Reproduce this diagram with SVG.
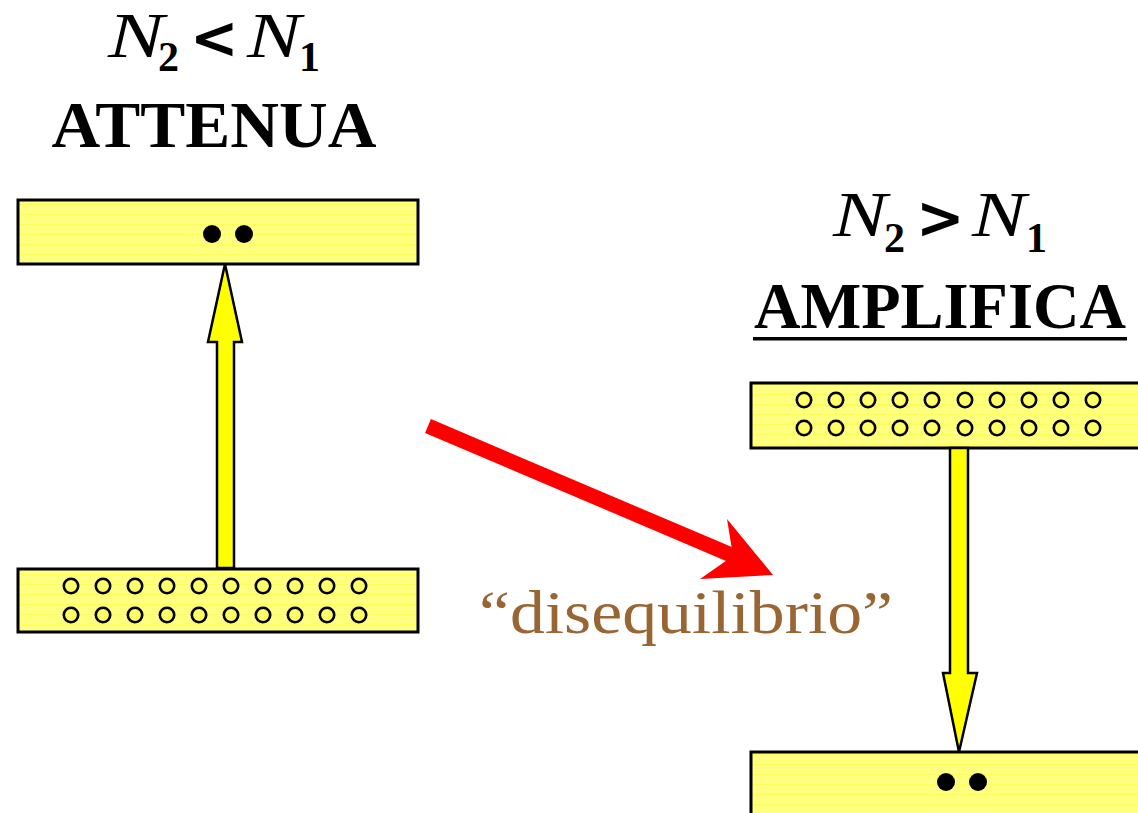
<svg xmlns="http://www.w3.org/2000/svg" width="1138" height="813" viewBox="0 0 1138 813">
  <style>
    .lvl { fill: url(#stripes); stroke: #000; stroke-width: 3; }
    .dot { fill: #000; }
    .hole { fill: #FFFF66; stroke: #000; stroke-width: 2.6; }
    .yarrow { fill: #FFFF00; stroke: #000; stroke-width: 2.5; stroke-linejoin: miter; }
    .title { font-family: "Liberation Serif", "Times New Roman", serif; fill: #000; }
    .n { font-style: italic; font-size: 64px; }
    .sub { font-size: 42px; font-weight: bold; }
    .op { font-family: "DejaVu Sans", sans-serif; font-size: 58px; font-weight: bold; }
    .label { font-family: "Liberation Serif", "Times New Roman", serif; fill: #996633; }
  </style>
  <defs>
    <pattern id="stripes" patternUnits="userSpaceOnUse" width="20" height="10">
      <rect width="20" height="10" fill="#FFFF80"/>
      <rect y="4" width="20" height="1.2" fill="#FFFF4D" opacity="0.7"/>
    </pattern>
  </defs>
  <rect width="1138" height="813" fill="#FFFFFF"/>

  <g id="title-left">
    <text class="title n" x="108" y="57" textLength="56" lengthAdjust="spacingAndGlyphs">N</text>
    <text class="title sub" x="158" y="71">2</text>
    <text class="title op" x="190" y="58">&lt;</text>
    <text class="title n" x="247" y="57" textLength="54" lengthAdjust="spacingAndGlyphs">N</text>
    <text class="title sub" x="299" y="71">1</text>
    <text class="title" x="214" y="147" font-size="66" font-weight="bold" text-anchor="middle" textLength="325" lengthAdjust="spacingAndGlyphs">ATTENUA</text>
  </g>

  <g id="title-right">
    <text class="title n" x="833" y="236" textLength="54" lengthAdjust="spacingAndGlyphs">N</text>
    <text class="title sub" x="884" y="252">2</text>
    <text class="title op" x="916" y="238">&gt;</text>
    <text class="title n" x="972" y="236" textLength="54" lengthAdjust="spacingAndGlyphs">N</text>
    <text class="title sub" x="1026" y="252">1</text>
    <text class="title" x="940" y="328" font-size="66" font-weight="bold" text-anchor="middle" textLength="372" lengthAdjust="spacingAndGlyphs">AMPLIFICA</text>
    <rect x="753" y="337" width="374" height="3.5" fill="#000"/>
  </g>

  <g id="left-upper-level">
    <rect class="lvl" x="18" y="200" width="400" height="64"/>
    <circle class="dot" cx="212" cy="234" r="9"/>
    <circle class="dot" cx="244" cy="234" r="9"/>
  </g>

  <g id="left-lower-level">
    <rect class="lvl" x="18" y="569" width="400" height="63"/>
    <g>
      <circle class="hole" cx="71" cy="586" r="7.2"/><circle class="hole" cx="103" cy="586" r="7.2"/><circle class="hole" cx="135" cy="586" r="7.2"/><circle class="hole" cx="167" cy="586" r="7.2"/><circle class="hole" cx="199" cy="586" r="7.2"/><circle class="hole" cx="231" cy="586" r="7.2"/><circle class="hole" cx="263" cy="586" r="7.2"/><circle class="hole" cx="295" cy="586" r="7.2"/><circle class="hole" cx="327" cy="586" r="7.2"/><circle class="hole" cx="359" cy="586" r="7.2"/>
      <circle class="hole" cx="71" cy="615" r="7.2"/><circle class="hole" cx="103" cy="615" r="7.2"/><circle class="hole" cx="135" cy="615" r="7.2"/><circle class="hole" cx="167" cy="615" r="7.2"/><circle class="hole" cx="199" cy="615" r="7.2"/><circle class="hole" cx="231" cy="615" r="7.2"/><circle class="hole" cx="263" cy="615" r="7.2"/><circle class="hole" cx="295" cy="615" r="7.2"/><circle class="hole" cx="327" cy="615" r="7.2"/><circle class="hole" cx="359" cy="615" r="7.2"/>
    </g>
  </g>

  <g id="right-upper-level">
    <rect class="lvl" x="751" y="383" width="392" height="65"/>
    <g>
      <circle class="hole" cx="804" cy="400" r="7.2"/><circle class="hole" cx="836" cy="400" r="7.2"/><circle class="hole" cx="868" cy="400" r="7.2"/><circle class="hole" cx="900" cy="400" r="7.2"/><circle class="hole" cx="932" cy="400" r="7.2"/><circle class="hole" cx="965" cy="400" r="7.2"/><circle class="hole" cx="997" cy="400" r="7.2"/><circle class="hole" cx="1029" cy="400" r="7.2"/><circle class="hole" cx="1061" cy="400" r="7.2"/><circle class="hole" cx="1093" cy="400" r="7.2"/>
      <circle class="hole" cx="804" cy="428" r="7.2"/><circle class="hole" cx="836" cy="428" r="7.2"/><circle class="hole" cx="868" cy="428" r="7.2"/><circle class="hole" cx="900" cy="428" r="7.2"/><circle class="hole" cx="932" cy="428" r="7.2"/><circle class="hole" cx="965" cy="428" r="7.2"/><circle class="hole" cx="997" cy="428" r="7.2"/><circle class="hole" cx="1029" cy="428" r="7.2"/><circle class="hole" cx="1061" cy="428" r="7.2"/><circle class="hole" cx="1093" cy="428" r="7.2"/>
    </g>
  </g>

  <g id="right-lower-level">
    <rect class="lvl" x="751" y="752" width="392" height="70"/>
    <circle class="dot" cx="946" cy="782" r="9"/>
    <circle class="dot" cx="978" cy="782" r="9"/>
  </g>

  <g id="connectors">
    <polygon class="yarrow" points="217,568 217,342 208,342 225,264 242,342 234,342 234,568"/>
    <polygon class="yarrow" points="950,448 968,448 968,673 977,673 959,752 943,673 950,673"/>
    <line x1="428" y1="426" x2="736" y2="557" stroke="#FF0000" stroke-width="15"/>
    <polygon points="727,519 773,575 700,579 733,556" fill="#FF0000"/>
  </g>

  <g id="label-disequilibrio">
    <text class="label" x="479" y="633" font-size="62" textLength="414" lengthAdjust="spacingAndGlyphs">“disequilibrio”</text>
  </g>
</svg>
